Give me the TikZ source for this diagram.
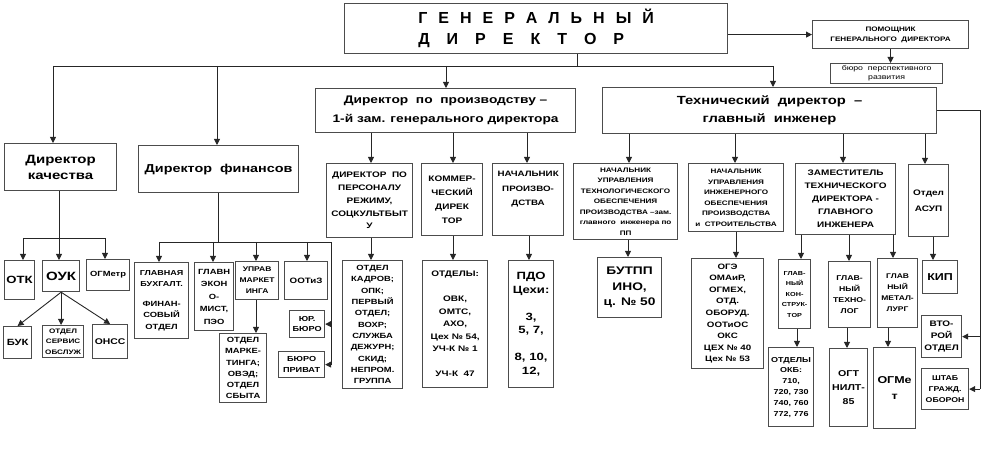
\documentclass[tikz,border=0pt]{standalone}
\usepackage{fontspec}
\setmainfont{Liberation Sans}[FakeStretch=1.25]
\newfontfamily\plainfont{Liberation Sans}
\usetikzlibrary{arrows.meta}
\newcommand\bx[8]{\node[bx,minimum width=#4pt,minimum height=#5pt,font=\fontsize{#6}{#7}\selectfont\bfseries] (#1) at (#2,#3) {#8};}
\begin{document}
\begin{tikzpicture}[x=1pt,y=-1pt,
  bx/.style={draw=black!70,line width=1.2pt,fill=white,inner sep=0pt,align=center,anchor=north west},
  arr/.style={-{Triangle[length=6pt,width=6pt]},line width=0.9pt,draw=black!85},
  ln/.style={line width=0.9pt,draw=black!85}]
\useasboundingbox (0,0) rectangle (989,449);
% top
\node[bx,minimum width=383pt,minimum height=50pt,align=left,font=\plainfont\fontsize{16}{21}\selectfont\bfseries] (gd) at (344,3)
 {Г\hspace{11pt}Е\hspace{11pt}Н\hspace{11pt}Е\hspace{11pt}Р\hspace{11pt}А\hspace{11pt}Л\hspace{11pt}Ь\hspace{11pt}Н\hspace{11pt}Ы\hspace{11pt}Й\\
  Д\hspace{17pt}И\hspace{17pt}Р\hspace{17pt}Е\hspace{17pt}К\hspace{17pt}Т\hspace{17pt}О\hspace{17pt}Р};
\bx{asst}{812}{20}{156}{28}{6.5}{10}{ПОМОЩНИК\\ГЕНЕРАЛЬНОГО\ \ ДИРЕКТОРА}
\node[bx,minimum width=112pt,minimum height=20pt,font=\fontsize{7}{9}\selectfont] (bur) at (830,63) {бюро\ \ перспективного\\развития};
\draw[arr] (gd.east |- asst.west) -- (asst.west);
\draw[arr] (asst.south) -- (asst.south |- bur.north);
% level 1
\bx{qd}{4}{143}{112}{47}{12}{16}{Директор\\качества}
\bx{fd}{138}{145}{160}{47}{11.5}{16}{Директор\ \ финансов}
\bx{pd}{315}{88}{260}{44}{11}{19}{Директор\ \ по\ \ производству –\\1-й зам. генерального директора}
\bx{td}{602}{87}{334}{46}{11.8}{18}{Технический\ \ директор\ \ –\\главный\ \ инженер}
\draw[ln] (577,0 |- gd.south) -- (577,66);
\draw[ln] (53,66) -- (773,66);
\draw[arr] (53,66) -- (53,0 |- qd.north);
\draw[arr] (217,66) -- (217,0 |- fd.north);
\draw[arr] (446,66) -- (446,0 |- pd.north);
\draw[arr] (773,66) -- (773,0 |- td.north);
% quality
\bx{otk}{4}{260}{30}{39}{10.5}{12}{ОТК}
\bx{ouk}{42}{260}{37}{31}{12}{12}{ОУК}
\bx{ogm}{86}{259}{43}{31}{7.5}{9}{ОГМетр}
\bx{buk}{3}{326}{28}{32}{9}{10}{БУК}
\bx{serv}{42}{325}{41}{32}{6.5}{10.5}{ОТДЕЛ\\СЕРВИС\\ОБСЛУЖ}
\bx{onss}{92}{324}{35}{34}{8.3}{10}{ОНСС}
\draw[ln] (59,0 |- qd.south) -- (59,238);
\draw[ln] (23,238) -- (105,238);
\draw[arr] (23,238) -- (23,0 |- otk.north);
\draw[arr] (59,238) -- (59,0 |- ouk.north);
\draw[arr] (105,238) -- (105,0 |- ogm.north);
\draw[arr] (ouk.south) -- (buk.north);
\draw[arr] (ouk.south) -- (ouk.south |- serv.north);
\draw[arr] (ouk.south) -- (onss.north);
% finance
\bx{gb}{134}{262}{54}{76}{7.2}{11.5}{ГЛАВНАЯ\\БУХГАЛТ.\\[8pt]\fontsize{7.5}{11.5}\selectfont ФИНАН-\\\fontsize{7.5}{11.5}\selectfont СОВЫЙ\\\fontsize{7.5}{11.5}\selectfont ОТДЕЛ}
\bx{ge}{194}{262}{39}{68}{7.5}{12.5}{ГЛАВН\\ЭКОН\\О-\\МИСТ,\\ПЭО}
\bx{um}{235}{261}{43}{38}{6.8}{11}{УПРАВ\\МАРКЕТ\\ИНГА}
\bx{ootz}{284}{261}{43}{38}{7.8}{9}{ООТиЗ}
\bx{om}{219}{333}{47}{69}{7.5}{11.3}{ОТДЕЛ\\МАРКЕ-\\ТИНГА;\\ОВЭД;\\ОТДЕЛ\\СБЫТА}
\bx{yur}{289}{310}{35}{27}{7.3}{10.5}{ЮР.\\БЮРО}
\bx{priv}{278}{351}{46}{26}{7.3}{10.5}{БЮРО\\ПРИВАТ}
\draw[ln] (218,0 |- fd.south) -- (218,242);
\draw[ln] (159,242) -- (331,242) -- (331,0 |- priv.east);
\draw[arr] (159,242) -- (159,0 |- gb.north);
\draw[arr] (213,242) -- (213,0 |- ge.north);
\draw[arr] (256,242) -- (256,0 |- um.north);
\draw[arr] (307,242) -- (307,0 |- ootz.north);
\draw[arr] (256,0 |- um.south) -- (256,0 |- om.north);
\draw[arr] (331,0 |- yur.east) -- (yur.east);
\draw[arr] (331,0 |- priv.east) -- (priv.east);
% production
\bx{pers}{326}{163}{86}{74}{8}{12.8}{ДИРЕКТОР\ \ ПО\\ПЕРСОНАЛУ\\РЕЖИМУ,\\СОЦКУЛЬТБЫТ\\У}
\bx{com}{421}{163}{61}{72}{8}{14}{КОММЕР-\\ЧЕСКИЙ\\ДИРЕК\\ТОР}
\bx{nach}{492}{163}{71}{72}{7.8}{14.5}{НАЧАЛЬНИК\\ПРОИЗВО-\\ДСТВА\\[8pt]}
\bx{pdept}{342}{260}{60}{128}{7.5}{11.3}{ОТДЕЛ\\КАДРОВ;\\ОПК;\\ПЕРВЫЙ\\ОТДЕЛ;\\ВОХР;\\СЛУЖБА\\ДЕЖУРН;\\СКИД;\\НЕПРОМ.\\ГРУППА}
\bx{cdept}{422}{260}{65}{127}{8}{12.5}{ОТДЕЛЫ:\\[12.5pt]ОВК,\\ОМТС,\\АХО,\\Цех № 54,\\УЧ-К № 1\\[12.5pt]УЧ-К\ \ 47}
\bx{pdo}{508}{260}{45}{127}{10.5}{13.5}{ПДО\\Цехи:\\[13.5pt]3,\\5, 7,\\[13.5pt]8, 10,\\12,}
\draw[arr] (371,0 |- pd.south) -- (371,0 |- pers.north);
\draw[arr] (453,0 |- pd.south) -- (453,0 |- com.north);
\draw[arr] (527,0 |- pd.south) -- (527,0 |- nach.north);
\draw[arr] (371,0 |- pers.south) -- (371,0 |- pdept.north);
\draw[arr] (453,0 |- com.south) -- (453,0 |- cdept.north);
\draw[arr] (529,0 |- nach.south) -- (529,0 |- pdo.north);
% technical
\bx{ts}{573}{163}{104}{76}{6.5}{10.5}{НАЧАЛЬНИК\\УПРАВЛЕНИЯ\\ТЕХНОЛОГИЧЕСКОГО\\ОБЕСПЕЧЕНИЯ\\ПРОИЗВОДСТВА –зам.\\главного\ \ инженера по\\ПП}
\bx{es}{688}{163}{95}{68}{6.5}{10.5}{НАЧАЛЬНИК\\УПРАВЛЕНИЯ\\ИНЖЕНЕРНОГО\\ОБЕСПЕЧЕНИЯ\\ПРОИЗВОДСТВА\\и\ \ СТРОИТЕЛЬСТВА}
\bx{dep}{795}{163}{100}{71}{8}{13}{ЗАМЕСТИТЕЛЬ\\ТЕХНИЧЕСКОГО\\ДИРЕКТОРА -\\ГЛАВНОГО\\ИНЖЕНЕРА}
\bx{asup}{908}{164}{40}{72}{8}{15.5}{Отдел\\АСУП}
\bx{butpp}{597}{257}{64}{60}{11}{15.5}{БУТПП\\ИНО,\\ц. № 50}
\bx{oge}{691}{258}{72}{110}{7.8}{11.6}{ОГЭ\\ОМАиР,\\ОГМЕХ,\\ОТД.\\ОБОРУД.\\ООТиОС\\ОКС\\ЦЕХ № 40\\Цех № 53}
\bx{gk}{778}{259}{32}{69}{5.8}{10.5}{ГЛАВ-\\НЫЙ\\КОН-\\СТРУК-\\ТОР}
\bx{gt}{828}{261}{42}{66}{7}{11}{ГЛАВ-\\НЫЙ\\ТЕХНО-\\ЛОГ}
\bx{gm}{877}{258}{40}{69}{6.8}{11}{ГЛАВ\\НЫЙ\\МЕТАЛ-\\ЛУРГ}
\bx{kip}{922}{260}{35}{33}{10}{11}{КИП}
\bx{okb}{768}{347}{45}{79}{7.2}{10.8}{ОТДЕЛЫ\\ОКБ:\\710,\\720, 730\\740, 760\\772, 776}
\bx{ogt}{829}{348}{38}{78}{8.5}{14}{ОГТ\\НИЛТ-\\85}
\bx{ogmet}{873}{347}{42}{81}{10}{16}{ОГМе\\т}
\bx{vtor}{921}{315}{40}{42}{8}{11.7}{ВТО-\\РОЙ\\ОТДЕЛ}
\bx{shtab}{921}{368}{47}{41}{7}{10.8}{ШТАБ\\ГРАЖД.\\ОБОРОН}
\draw[arr] (629,0 |- td.south) -- (629,0 |- ts.north);
\draw[arr] (735,0 |- td.south) -- (735,0 |- es.north);
\draw[arr] (843,0 |- td.south) -- (843,0 |- dep.north);
\draw[arr] (925,0 |- td.south) -- (925,0 |- asup.north);
\draw[arr] (628,0 |- ts.south) -- (628,0 |- butpp.north);
\draw[arr] (736,0 |- es.south) -- (736,0 |- oge.north);
\draw[arr] (801,0 |- dep.south) -- (801,0 |- gk.north);
\draw[arr] (849,0 |- dep.south) -- (849,0 |- gt.north);
\draw[arr] (893,0 |- dep.south) -- (893,0 |- gm.north);
\draw[arr] (933,0 |- asup.south) -- (933,0 |- kip.north);
\draw[arr] (797,0 |- gk.south) -- (797,0 |- okb.north);
\draw[arr] (847,0 |- gt.south) -- (847,0 |- ogt.north);
\draw[arr] (888,0 |- gm.south) -- (888,0 |- ogmet.north);
\draw[ln] (td.east) -- (980,0 |- td.east) -- (980,0 |- shtab.east);
\draw[arr] (980,0 |- vtor.east) -- (vtor.east);
\draw[arr] (980,0 |- shtab.east) -- (shtab.east);
\end{tikzpicture}
\end{document}
